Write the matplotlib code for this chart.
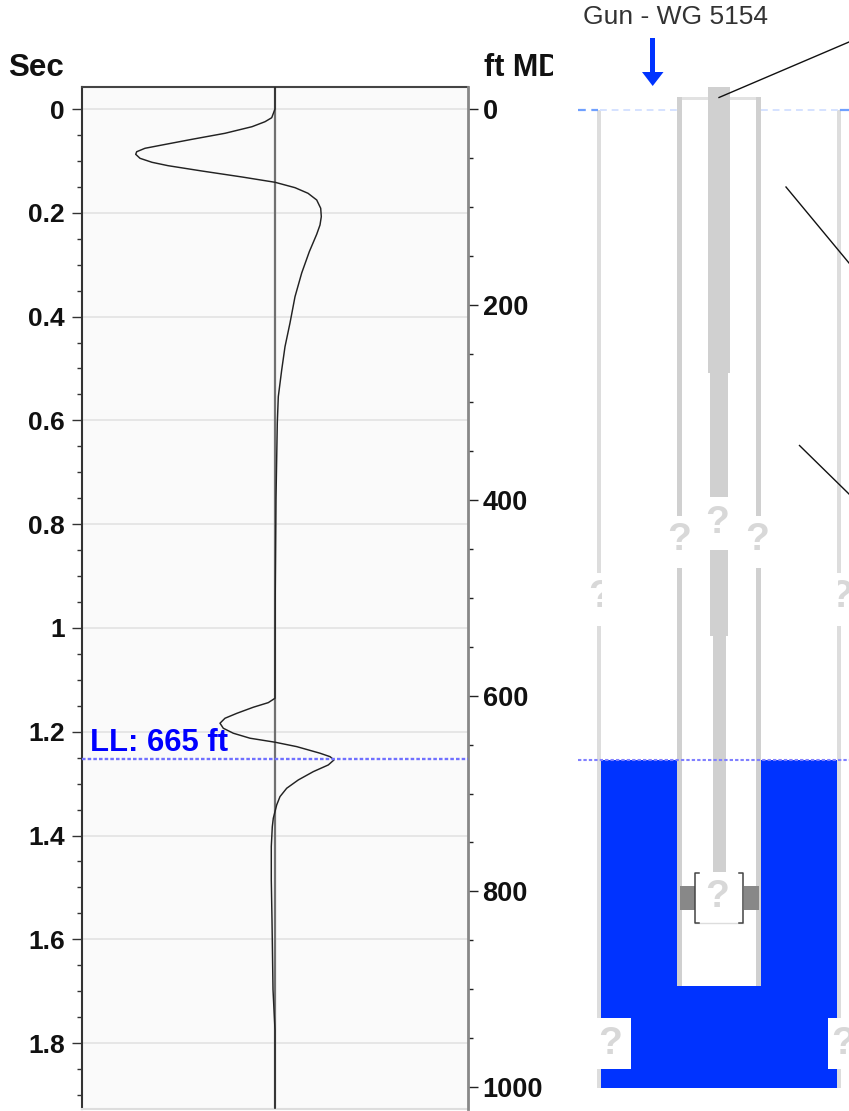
import matplotlib
matplotlib.use("Agg")
import matplotlib.pyplot as plt
from matplotlib.patches import Rectangle, Polygon

plt.rcParams['font.family'] = ['Liberation Sans', 'DejaVu Sans']

# traço acústico, tempo em segundos e amplitude relativa
tempo = [-0.042, 0.0, 0.0168, 0.0245, 0.0341, 0.0468, 0.0584, 0.0694, 0.0757, 0.0823, 0.0873,
         0.095, 0.1027, 0.1092, 0.1195, 0.131, 0.1412, 0.1516, 0.1624, 0.1753, 0.1913, 0.2075,
         0.2235, 0.2414, 0.275, 0.316, 0.3617, 0.4123, 0.458, 0.5029, 0.5543, 0.605, 0.75, 0.946,
         1.1195, 1.1355, 1.1439, 1.1528, 1.1644, 1.174, 1.1836, 1.1933, 1.2029, 1.2125, 1.2202,
         1.2287, 1.2414, 1.248, 1.2543, 1.264, 1.2769, 1.2929, 1.3089, 1.325, 1.341, 1.3667,
         1.383, 1.421, 1.486, 1.563, 1.697, 1.775, 1.927]
amplitude = [0, 0, -3.3, -10, -23, -50, -83, -113, -130, -138.3, -139.3,
             -135, -123, -107, -73, -33, 0, 20, 33, 41.7, 45.7, 46.3,
             45, 41.7, 34.3, 26.7, 20, 15, 10, 6.7, 3.3, 2.3, 1, 0.2,
             0, 0, -6.7, -21.7, -38, -50, -55, -51.7, -41.7, -25, 0,
             21.7, 45, 55, 59, 53.3, 38.3, 23.3, 11.7, 5, 1.7, -1.7,
             -2.7, -3.7, -3.7, -3, -2, 0, 0]

seg_ticks = [0, 0.2, 0.4, 0.6, 0.8, 1, 1.2, 1.4, 1.6, 1.8]
seg_labels = ['0', '0.2', '0.4', '0.6', '0.8', '1', '1.2', '1.4', '1.6', '1.8']
ft_ticks = [0, 200, 400, 600, 800, 1000]
nivel_ft = 665
nivel_texto = 'LL: 665 ft'
canhao_texto = 'Gun - WG 5154'

W, H = 849, 1111
AZUL = '#0033ff'
CINZA = '#d0d0d0'
CINZA_CLARO = '#dddddd'

fig = plt.figure(figsize=(W / 100, H / 100), dpi=100)
fig.patch.set_facecolor('white')

def caixa(x0, y0, x1, y1):
    return [x0 / W, 1 - y1 / H, (x1 - x0) / W, (y1 - y0) / H]

ax = fig.add_axes(caixa(82, 87, 468, 1109))
ax.set_facecolor('#fafafa')
ax.set_xlim(-193, 193)
ax.set_ylim(1.927, -0.0424)
for t in seg_ticks:
    ax.axhline(t, color='#e6e6e6', lw=1.4, zorder=1)
ax.axvline(0, color='#707070', lw=1.6, zorder=2)
ax.plot(amplitude, tempo, color='#222222', lw=1.05, zorder=3)

ax.set_xticks([])
ax.set_yticks(seg_ticks)
ax.set_yticklabels(seg_labels, fontsize=19, fontweight='bold', color='#111111')
ax.set_yticks([i * 0.05 for i in range(39)], minor=True)
ax.tick_params(axis='y', which='major', length=7.5, width=1, color='#333333', pad=5)
ax.tick_params(axis='y', which='minor', length=3.5, width=1, color='#333333')

ax.spines['left'].set_color('#333333')
ax.spines['left'].set_linewidth(1.5)
ax.spines['top'].set_color('#444444')
ax.spines['top'].set_linewidth(1.5)
ax.spines['right'].set_visible(False)
ax.spines['bottom'].set_color('#dddddd')
ax.spines['bottom'].set_linewidth(1.5)

ax2 = ax.twinx()
ax2.set_ylim(1022.5, -22.5)
ax2.set_yticks(ft_ticks)
ax2.set_yticklabels([str(v) for v in ft_ticks], fontsize=19.5, fontweight='bold', color='#111111')
ax2.set_yticks(range(0, 1001, 50), minor=True)
ax2.tick_params(axis='y', which='major', length=7.5, width=1, color='#222222', pad=3)
ax2.tick_params(axis='y', which='minor', length=3.5, width=1, color='#222222')
for s in ['left', 'top', 'bottom']:
    ax2.spines[s].set_visible(False)
ax2.spines['right'].set_color('#888888')
ax2.spines['right'].set_linewidth(2)

ax2.axhline(nivel_ft, color='#7070ff', lw=1.7, dashes=(1.5, 0.9), zorder=4)
ax2.text(0.02, nivel_ft - 9, nivel_texto, transform=ax2.get_yaxis_transform(), color='#0000ff',
         fontsize=22.3, fontweight='bold', va='baseline', ha='left', zorder=5)

# títulos dos eixos; o "ft MD" é cortado na borda do painel
fig.text(8 / W, 1 - 68 / H, 'Sec', fontsize=22.5, fontweight='bold', color='#111111', va='center')
t_md = fig.text(484 / W, 1 - 68 / H, 'ft MD', fontsize=22, fontweight='bold', color='#111111', va='center')
t_md.set_clip_on(True)
t_md.set_clip_path(Rectangle((0, 0), 553 / W, 1, transform=fig.transFigure))

# esquema do poço, em pixels da figura
well = fig.add_axes([0, 0, 1, 1], facecolor='none')
well.set_xlim(0, W)
well.set_ylim(H, 0)
well.axis('off')

def ret(x0, y0, x1, y1, cor, z=2):
    well.add_patch(Rectangle((x0, y0), x1 - x0, y1 - y0, facecolor=cor, edgecolor='none', zorder=z))

def interrogacao(x, y, clip=None, tam=28):
    t = well.text(x, y, '?', fontsize=tam, fontweight='bold', color='#d8d8d8', ha='center', va='center', zorder=6)
    if clip is not None:
        t.set_clip_on(True)
        t.set_clip_path(Rectangle((clip[0], 0), clip[1] - clip[0], H, transform=well.transData))

y_nivel = 760

# fluido
ret(600.7, y_nivel, 837.5, 1088, AZUL, 1)
ret(677, y_nivel, 761, 985.5, 'white', 1.5)

# revestimento externo
for x0, x1 in [(597.5, 600.7), (837.5, 840.7)]:
    ret(x0, 110, x1, 573, CINZA_CLARO)
    ret(x0, 626, x1, 1018, CINZA_CLARO)
    ret(x0, 1069, x1, 1088, CINZA_CLARO)

# revestimento interno
ret(676.7, 97, 761, 99.5, '#e2e2e2')
for x0, x1 in [(676.7, 681.7), (756, 761)]:
    ret(x0, 97, x1, 516, CINZA)
    ret(x0, 568, x1, 985.5, CINZA)

# coluna
ret(708.3, 87, 730, 373, CINZA, 3)
ret(710, 373, 728.3, 497, CINZA, 3)
ret(710, 550, 728.3, 636, CINZA, 3)
ret(712.7, 636, 726, 872, CINZA, 3)

# caixas brancas no fluido
ret(590, 1018, 631, 1069, 'white', 3)
ret(828, 1018, 849, 1069, 'white', 3)

# bomba
ret(680, 886, 695, 910, '#888888', 4)
ret(744, 886, 759, 910, '#888888', 4)
ret(695, 873, 743, 923, 'white', 3.5)
well.plot([695, 743], [923, 923], color=CINZA_CLARO, lw=1, zorder=4)
well.plot([699, 695, 695, 699], [873, 873, 923, 923], color='#444444', lw=1.1, zorder=5)
well.plot([739, 743, 743, 739], [873, 873, 923, 923], color='#444444', lw=1.1, zorder=5)

for x, y in [(717, 523), (679, 540), (757, 540), (717, 897), (610, 1044)]:
    interrogacao(x, y)
interrogacao(600, 597, clip=(580, 602))
interrogacao(841, 597, clip=(838, 849))
interrogacao(843, 1044, clip=(828, 849))

# linhas de nível
well.plot([578, 598], [110, 110], color='#6fa0ff', lw=1.6, dashes=(3.5, 2.5), zorder=2)
well.plot([600, 677], [110, 110], color='#d5e2ff', lw=1.4, dashes=(3.5, 2.5), zorder=2)
well.plot([761, 838], [110, 110], color='#d5e2ff', lw=1.4, dashes=(3.5, 2.5), zorder=2)
well.plot([841, 849], [110, 110], color='#6fa0ff', lw=1.6, zorder=2)
well.plot([578, 849], [y_nivel, y_nivel], color='#8080ff', lw=1.5, dashes=(1.6, 1.0), zorder=5)

# seta do canhão
ret(650.2, 38, 655.2, 72, AZUL, 5)
well.add_patch(Polygon([(642, 72), (663.5, 72), (652.7, 86)], closed=True, facecolor=AZUL, edgecolor='none', zorder=5))
well.text(583, 17, canhao_texto, fontsize=19, color='#333333', va='center', ha='left')

# linhas de chamada
for xs, ys in [([719, 849], [97.5, 42]), ([786, 849], [187, 263]), ([799.5, 849], [445.5, 494])]:
    well.plot(xs, ys, color='#111111', lw=1, zorder=6)

fig.savefig('out.png', dpi=100)
